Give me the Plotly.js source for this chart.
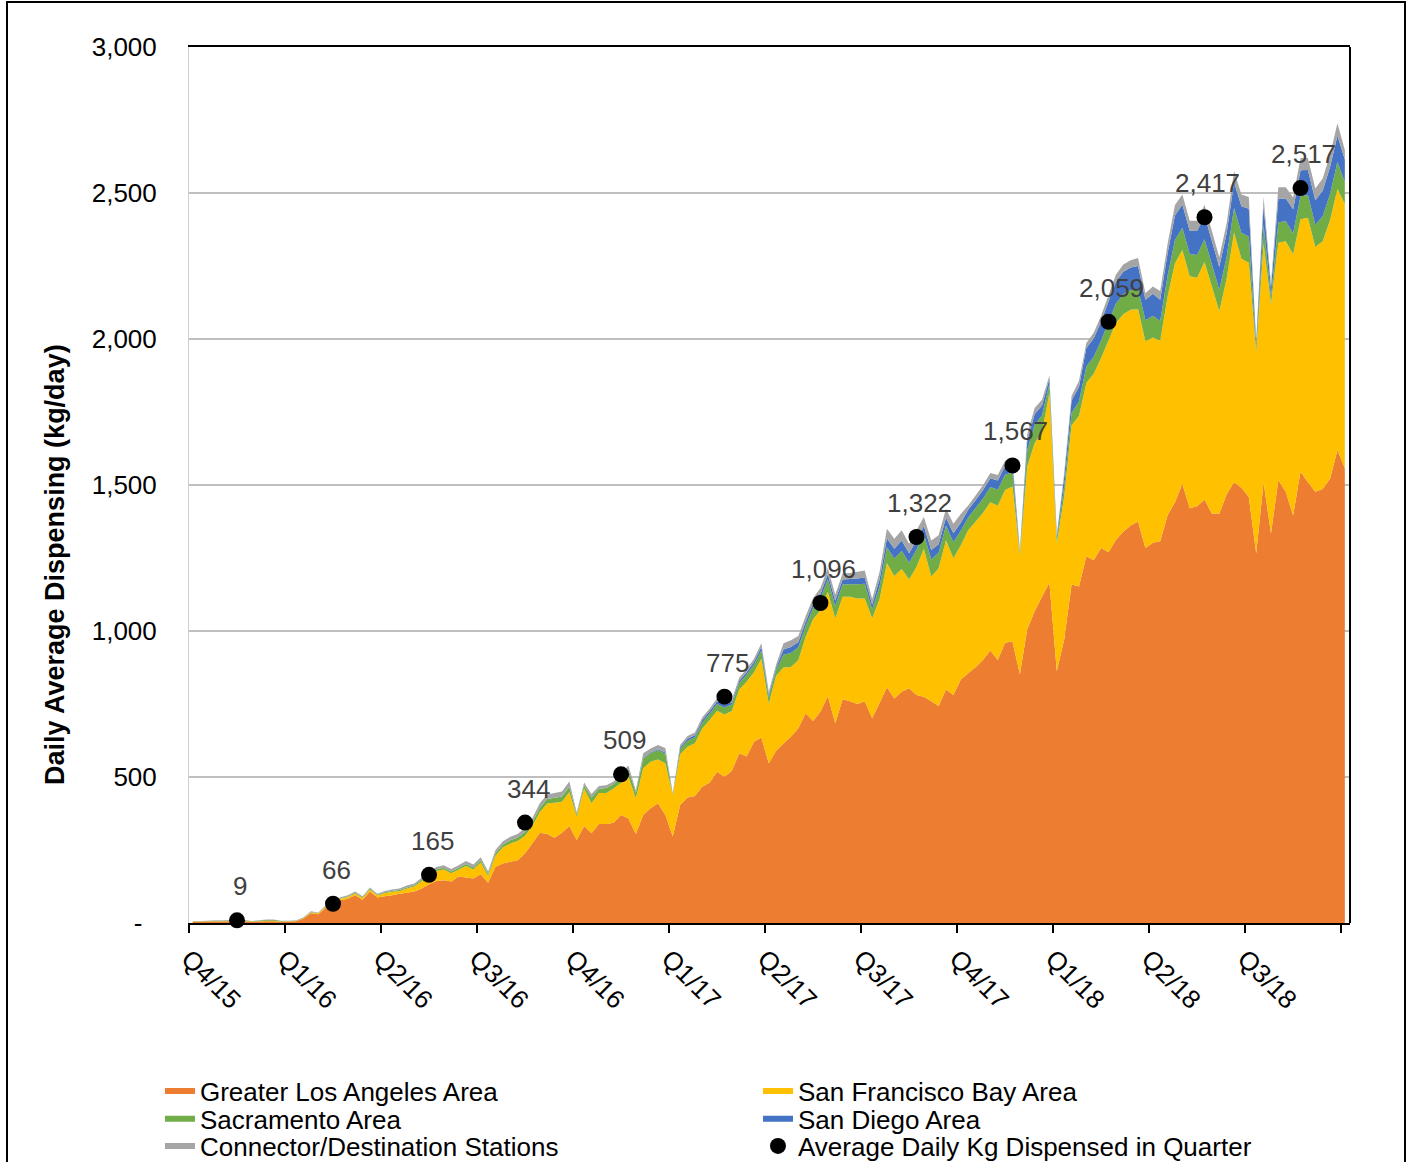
<!DOCTYPE html>
<html>
<head>
<meta charset="utf-8">
<script src="https://cdn.plot.ly/plotly-3.0.1.min.js"></script>
<style>
  html, body { margin: 0; padding: 0; background: #fff; }
  #wrap { position: relative; width: 1406px; height: 1162px; overflow: hidden; }
  #chart { position: absolute; left: 0; top: 0; width: 1406px; height: 1162px; }
  #frame { position: absolute; left: 6px; top: 1px; width: 1396px; height: 1200px; border: 2px solid #000; pointer-events: none; }
</style>
</head>
<body>
<div id="wrap"><div id="chart"></div><div id="frame"></div></div>
<script>
// Quarter tick labels (each quarter = 13 weekly points; Q4/16 has 14)
const quarterLabels = ["Q4/15","Q1/16","Q2/16","Q3/16","Q4/16","Q1/17","Q2/17","Q3/17","Q4/17","Q1/18","Q2/18","Q3/18",""];

// Weekly daily-average dispensing (kg/day) by region, stacked
const losAngeles = [
  4,4,5,5,5,6,6,6,4,5,6,6,4,
  5,6,15,33,30,52,65,78,83,95,80,108,87,
  92,95,100,104,108,118,133,144,146,142,159,156,152,
  167,138,193,204,210,215,239,273,309,305,292,309,332,
  284,332,307,339,339,343,370,358,305,370,393,410,370,296,
  404,430,435,467,481,518,501,521,581,570,621,635,547,
  590,615,638,667,718,692,724,777,684,766,759,750,759,
  701,753,807,769,792,804,781,775,759,743,800,781,834,
  855,876,901,933,901,960,964,852,1006,1068,1117,1166,863,
  971,1159,1152,1256,1242,1284,1270,1312,1340,1361,1375,1284,1302,
  1307,1396,1441,1504,1420,1427,1450,1402,1402,1468,1509,1491,1459,
  1266,1509,1334,1516,1477,1396,1545,1509,1477,1486,1521,1620,1557
];
const sanFrancisco = [
  1,1,1,1,1,1,1,1,1,1,2,2,1,
  1,1,2,3,3,4,5,5,6,6,6,7,7,
  10,12,9,14,17,25,29,34,37,28,23,39,31,
  40,23,37,55,62,66,60,59,71,104,120,106,117,
  80,129,103,106,106,118,110,143,122,160,159,150,177,142,
  174,174,181,199,214,209,213,205,219,256,238,270,204,
  257,260,239,233,262,348,347,357,359,351,358,361,352,
  343,356,425,419,420,372,438,507,428,472,511,468,459,
  490,498,503,508,528,523,531,408,557,576,565,649,437,
  489,546,584,593,639,651,725,743,745,739,727,708,703,
  687,749,818,801,795,783,814,778,693,738,856,784,802,
  689,817,786,814,858,894,865,906,838,849,886,894,905
];
const sacramento = [
  1,1,1,2,2,2,2,2,1,2,3,3,2,
  1,1,1,2,1,2,2,2,2,3,2,3,2,
  3,3,4,4,4,5,5,6,6,6,6,7,7,
  8,7,9,10,11,12,13,14,15,16,17,18,18,
  8,12,20,15,17,15,21,24,18,33,30,32,33,3,
  18,20,20,21,22,23,24,22,22,24,25,28,22,
  20,44,48,44,37,38,40,43,43,42,43,49,51,
  30,43,55,60,63,58,59,50,58,53,50,55,50,
  44,47,49,52,55,52,49,8,57,62,57,31,16,
  35,42,50,57,58,60,63,66,68,68,70,72,75,
  68,72,80,76,76,78,78,76,74,76,84,88,90,
  16,64,25,70,68,72,80,78,76,85,90,92,75
];
const sanDiego = [
  0,0,0,0,0,0,0,0,0,0,0,0,0,
  0,0,0,0,0,0,0,0,0,0,0,0,0,
  0,0,0,0,0,0,0,0,0,0,0,0,0,
  0,0,0,0,0,0,0,0,0,0,0,0,0,
  0,0,0,0,0,0,1,2,1,3,3,3,4,1,
  6,7,7,8,8,9,10,8,8,9,10,12,9,
  8,18,20,18,15,16,16,18,18,17,18,20,21,
  17,24,31,34,35,32,33,28,32,29,28,31,28,
  26,27,29,30,31,30,29,4,33,36,33,18,9,
  32,42,50,63,63,65,70,75,77,77,78,70,75,
  72,76,84,80,80,82,82,80,78,80,88,92,95,
  17,68,30,80,78,82,88,86,84,88,92,90,78
];
const connector = [
  1,1,1,1,1,1,1,1,1,1,1,1,1,
  1,1,2,2,2,2,3,3,4,4,4,4,4,
  5,5,5,6,6,7,8,8,9,9,10,10,10,
  10,8,11,11,12,12,13,14,15,15,16,17,18,
  6,8,12,9,10,9,11,12,9,15,13,15,15,2,
  8,9,9,10,10,11,12,9,10,11,11,13,10,
  10,21,23,21,19,19,20,21,21,21,21,23,24,
  19,26,32,34,35,33,34,30,33,31,30,32,30,
  15,16,17,18,19,18,17,3,20,22,20,11,5,
  13,16,20,17,19,20,22,24,25,25,27,23,25,
  30,32,36,34,34,35,35,34,33,34,38,40,40,
  7,28,15,40,39,41,42,41,40,42,43,43,32
];

// Quarterly average (dot placed at mid-quarter week)
const quarterWeek = [6,19,32,45,58,72,85,98,111,124,137,150];
const quarterAvg = [9,66,165,344,509,775,1096,1322,1567,2059,2417,2517];

const yTickVals = [0,500,1000,1500,2000,2500,3000];
const yTickText = ["-\u00a0\u00a0","500","1,000","1,500","2,000","2,500","3,000"];

const weeks = losAngeles.map((_, i) => i);
const tickVals = quarterLabels.map((_, i) => i * 13 - 0.5);

const font = "Liberation Sans, Arial, sans-serif";
function area(name, y, color, legendId) {
  return {
    type: "scatter", mode: "none", name: name, x: weeks, y: y,
    stackgroup: "one", fillcolor: color, line: {width: 0, color: color},
    legend: legendId, hoverinfo: "skip"
  };
}

const traces = [
  area("Greater Los Angeles Area", losAngeles, "#ED7D31", "legend"),
  area("San Francisco Bay Area", sanFrancisco, "#FFC000", "legend"),
  area("Sacramento Area", sacramento, "#70AD47", "legend2"),
  area("San Diego Area", sanDiego, "#4472C4", "legend2"),
  area("Connector/Destination Stations", connector, "#A5A5A5", "legend3"),
  {
    type: "scatter", mode: "markers", name: "Average Daily Kg Dispensed in Quarter",
    x: quarterWeek, y: quarterAvg, legend: "legend3",
    marker: {color: "#000", size: 16},
    cliponaxis: false, hoverinfo: "skip"
  }
];

const labelAnnotations = quarterWeek.map((w, i) => ({
  x: w, y: quarterAvg[i], xref: "x", yref: "y",
  text: quarterAvg[i].toLocaleString("en-US"),
  showarrow: false, xanchor: "center", yanchor: "bottom",
  xshift: 3, yshift: 17,
  font: {family: font, size: 26, color: "#404040"}
}));

function legendRow(yPaper) {
  return {
    orientation: "h", x: -0.025, xanchor: "left", y: yPaper, yanchor: "middle",
    font: {family: font, size: 26, color: "#000"},
    entrywidth: 553, entrywidthmode: "pixels", traceorder: "normal",
    bgcolor: "rgba(0,0,0,0)", borderwidth: 0, itemclick: false, itemdoubleclick: false
  };
}

const layout = {
  width: 1406, height: 1162,
  margin: {l: 189, r: 56, t: 47, b: 239, pad: 0, autoexpand: false},
  paper_bgcolor: "#fff", plot_bgcolor: "#fff",
  font: {family: font, size: 26, color: "#000"},
  showlegend: true,
  xaxis: {
    range: [-0.5, 156.7], tickmode: "array", tickvals: tickVals, ticktext: quarterLabels,
    tickangle: 45, ticks: "outside", ticklen: 8, tickwidth: 1.5, tickcolor: "#000",
    showline: true, linecolor: "#000", linewidth: 2, mirror: true,
    showgrid: false, zeroline: false,
    tickfont: {family: font, size: 26, color: "#000"}
  },
  yaxis: {
    range: [0, 3000], tickmode: "array", tickvals: yTickVals, ticktext: yTickText,
    showgrid: true, gridcolor: "#bfbfbf", gridwidth: 1.5,
    showline: true, linecolor: "#d0d0d0", linewidth: 1,
    zeroline: false, ticks: "", ticklabelstandoff: 26,
    tickfont: {family: font, size: 26, color: "#000"}
  },
  shapes: [
    {type: "line", xref: "paper", yref: "paper", x0: 1, x1: 1, y0: 0, y1: 1,
     line: {color: "#000", width: 2}}
  ],
  annotations: [
    {text: "Daily Average Dispensing (kg/day)", xref: "paper", yref: "paper",
     x: -0.1154, y: 0.4087, textangle: -90, showarrow: false,
     xanchor: "center", yanchor: "middle",
     font: {family: font, size: 27, color: "#000", weight: "bold"}}
  ].concat(labelAnnotations),
  legend: legendRow(-0.1918),
  legend2: legendRow(-0.2237),
  legend3: legendRow(-0.2546)
};

Plotly.newPlot("chart", traces, layout, {displayModeBar: false, staticPlot: true});
</script>
</body>
</html>
